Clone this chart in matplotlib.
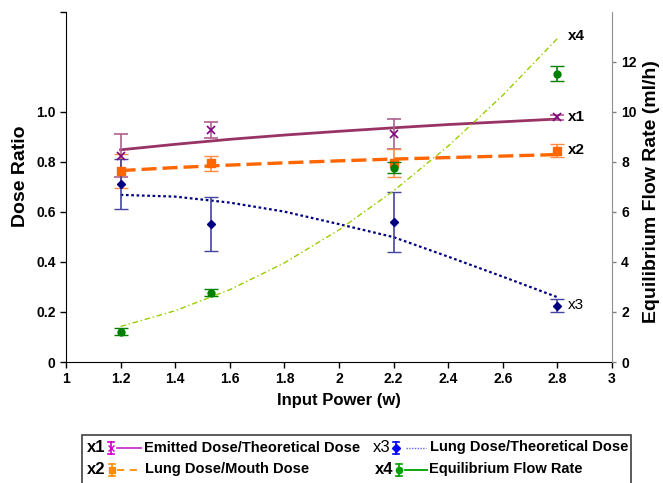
import matplotlib.pyplot as plt
from matplotlib.lines import Line2D
from matplotlib.patches import Rectangle

plt.rcParams['font.family'] = ['Liberation Sans', 'DejaVu Sans']

# measured points
power = [1.2, 1.53, 2.2, 2.8]
emitted = [0.825, 0.928, 0.911, 0.979]
emitted_err = [0.087, 0.031, 0.06, 0.01]
mouth = [0.765, 0.795, 0.795, 0.845]
mouth_err = [0.068, 0.03, 0.055, 0.025]
lung = [0.713, 0.552, 0.56, 0.225]
lung_err = [0.10, 0.107, 0.12, 0.025]
flow = [1.21, 2.77, 7.77, 11.52]
flow_err = [0.15, 0.15, 0.23, 0.3]

# trend lines
trend_x = [1.2, 1.4, 1.6, 1.8, 2.0, 2.2, 2.4, 2.6, 2.8]
emitted_trend = [0.848, 0.870, 0.890, 0.907, 0.922, 0.936, 0.949, 0.960, 0.971]
mouth_trend = [0.765, 0.777, 0.787, 0.796, 0.804, 0.811, 0.817, 0.823, 0.829]
lung_trend = [0.668, 0.661, 0.637, 0.601, 0.551, 0.499, 0.421, 0.341, 0.259]
flow_trend = [1.42, 2.05, 2.89, 3.96, 5.28, 6.84, 8.63, 10.66, 12.93]

x_ticks = [1, 1.2, 1.4, 1.6, 1.8, 2, 2.2, 2.4, 2.6, 2.8, 3]
x_labels = ['1', '1.2', '1.4', '1.6', '1.8', '2', '2.2', '2.4', '2.6', '2.8', '3']
left_ticks = [0, 0.2, 0.4, 0.6, 0.8, 1.0, 1.4]
left_labels = ['0', '0.2', '0.4', '0.6', '0.8', '1.0', '']
right_ticks = [0, 2, 4, 6, 8, 10, 12]
right_labels = ['0', '2', '4', '6', '8', '10', '12']

W, H = 663, 483
fig = plt.figure(figsize=(W / 100, H / 100), dpi=100)
ax = fig.add_axes([66 / W, 1 - 362 / H, (612 - 66) / W, (362 - 11.7) / H])
ax2 = ax.twinx()

# dose ratio series
ax.plot(trend_x, emitted_trend, color='#993366', lw=2.0, zorder=3)
ax.errorbar(power, emitted, yerr=emitted_err, fmt='x', color='#800080', ms=6, mew=1.2,
            ecolor='#B0608F', elinewidth=1.2, capsize=5, zorder=4)
ax.plot(trend_x, mouth_trend, color='#FF6600', lw=2.4, dashes=(4.5, 1.8), zorder=3)
ax.errorbar(power, mouth, yerr=mouth_err, fmt='s', color='#FF6600', ms=6,
            ecolor='#FF8C40', elinewidth=1.2, capsize=5, zorder=4)
ax.plot(trend_x, lung_trend, color='#000080', lw=1.6, dashes=(1.2, 1.2), zorder=3)
ax.errorbar(power, lung, yerr=lung_err, fmt='D', color='#000080', ms=4.5,
            ecolor='#4444A0', elinewidth=1.2, capsize=5, zorder=4)

# flow rate on right axis
ax2.plot(trend_x, flow_trend, color='#99CC00', lw=1.0, dashes=(4, 2, 1, 2), zorder=3)
ax2.errorbar(power, flow, yerr=flow_err, fmt='o', color='#008000', ms=5,
             ecolor='#008000', elinewidth=1.2, capsize=5, zorder=4)

ax.set_xlim(1, 3)
ax.set_ylim(0, 1.4)
ax2.set_ylim(0, 14)
ax.set_xticks(x_ticks)
ax.set_xticklabels(x_labels, fontsize=10, fontweight='bold')
ax.set_yticks(left_ticks)
ax.set_yticklabels(left_labels, fontsize=10, fontweight='bold')
ax2.set_yticks(right_ticks)
ax2.set_yticklabels(right_labels, fontsize=10, fontweight='bold')
ax.tick_params(direction='out', length=4, width=1)
ax2.tick_params(direction='out', length=3, width=1, color='#808080')

for a in (ax, ax2):
    a.spines['top'].set_visible(False)
ax2.spines['left'].set_visible(False)
ax2.spines['bottom'].set_visible(False)
ax.spines['right'].set_visible(False)
ax2.spines['right'].set_color('#909090')

ax.set_xlabel('Input Power (w)', fontsize=12, fontweight='bold', labelpad=5)
fig.text(21 / W, 1 - 176 / H, 'Dose Ratio', rotation=90, fontsize=14, fontweight='bold',
         ha='center', va='center')
fig.text(652 / W, 1 - 192 / H, 'Equilibrium Flow Rate (ml/h)', rotation=90, fontsize=14,
         fontweight='bold', ha='center', va='center')

# series tags at the end of each line
ax2.text(2.84, 13.04, 'x4', fontsize=11, fontweight='bold', va='center')
ax.text(2.84, 0.98, 'x1', fontsize=11, fontweight='bold', va='center')
ax.text(2.84, 0.848, 'x2', fontsize=11, fontweight='bold', va='center')
ax.text(2.84, 0.228, 'x3', fontsize=11, va='center')


# hand made legend (pixel positions)
def fx(x):
    return x / W


def fy(y):
    return 1 - y / H


def bar_marker(x, y, color, marker, ms):
    fig.add_artist(Line2D([fx(x), fx(x)], [fy(y - 6), fy(y + 6)], color=color, lw=1.2))
    for yy in (y - 6, y + 6):
        fig.add_artist(Line2D([fx(x - 3), fx(x + 3)], [fy(yy), fy(yy)], color=color, lw=1.2))
    fig.add_artist(Line2D([fx(x)], [fy(y)], color=color, marker=marker, ms=ms, lw=0))


fig.add_artist(Rectangle((fx(82), fy(495)), fx(631) - fx(82), fy(435) - fy(495),
                         fill=False, edgecolor='#404040', lw=1.2))
r1, r2 = 447.5, 469.5
fig.text(fx(87), fy(r1), 'x1', fontsize=12, fontweight='bold', va='center')
bar_marker(111, r1, '#CC00CC', 'x', 5)
fig.add_artist(Line2D([fx(117), fx(141)], [fy(r1), fy(r1)], color='#CC33CC', lw=1.3))
fig.text(fx(144), fy(r1), 'Emitted Dose/Theoretical Dose', fontsize=10.5, fontweight='bold', va='center')

fig.text(fx(87), fy(r2), 'x2', fontsize=12, fontweight='bold', va='center')
bar_marker(112, r2, '#FF8C00', 's', 5)
fig.add_artist(Line2D([fx(117), fx(141)], [fy(r2), fy(r2)], color='#FF8C00', lw=1.3, dashes=(4, 3)))
fig.text(fx(145), fy(r2), 'Lung Dose/Mouth Dose', fontsize=10.5, fontweight='bold', va='center')

fig.text(fx(373), fy(r1), 'x3', fontsize=12, va='center')
bar_marker(396, r1, '#0000FF', 'D', 4)
fig.add_artist(Line2D([fx(406), fx(426)], [fy(r1), fy(r1)], color='#6666FF', lw=1.0, dashes=(1, 1)))
fig.text(fx(430), fy(r1), 'Lung Dose/Theoretical Dose', fontsize=10.5, fontweight='bold', va='center')

fig.text(fx(375), fy(r2), 'x4', fontsize=12, fontweight='bold', va='center')
bar_marker(399, r2, '#00A000', 'o', 4.5)
fig.add_artist(Line2D([fx(405), fx(427)], [fy(r2), fy(r2)], color='#00A000', lw=1.3))
fig.text(fx(429), fy(r2), 'Equilibrium Flow Rate', fontsize=10.5, fontweight='bold', va='center')

fig.savefig('out.png', dpi=100)
